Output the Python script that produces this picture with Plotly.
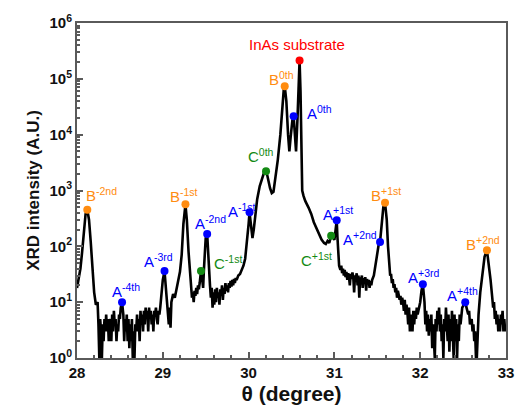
import math
import plotly.graph_objects as go

# ---------------- data ----------------
theta = [
    28.00, 28.02, 28.04, 28.06, 28.08, 28.10, 28.12, 28.14, 28.16, 28.18, 28.20, 28.22, 28.24,
    28.25, 28.26, 28.27, 28.28, 28.29, 28.30, 28.31, 28.32, 28.33, 28.34, 28.35, 28.36, 28.37,
    28.38, 28.39, 28.40, 28.41, 28.42, 28.43, 28.44, 28.45, 28.46, 28.47, 28.48, 28.49, 28.50,
    28.51, 28.525, 28.54, 28.55, 28.56, 28.57, 28.58, 28.59, 28.60, 28.61, 28.62, 28.63, 28.64,
    28.65, 28.66, 28.67, 28.68, 28.69, 28.70, 28.71, 28.72, 28.73, 28.74, 28.75, 28.76, 28.77,
    28.78, 28.79, 28.80, 28.81, 28.82, 28.83, 28.84, 28.85, 28.86, 28.87, 28.88, 28.89, 28.90,
    28.91, 28.92, 28.93, 28.94, 28.95, 28.96, 28.97, 28.98, 29.00, 29.02, 29.04, 29.06, 29.07,
    29.08, 29.09, 29.10, 29.12, 29.14, 29.16, 29.18, 29.20, 29.22, 29.24, 29.264, 29.28, 29.30,
    29.32, 29.33, 29.34, 29.35, 29.36, 29.37, 29.38, 29.39, 29.40, 29.41, 29.42, 29.43, 29.445,
    29.46, 29.47, 29.48, 29.50, 29.517, 29.53, 29.55, 29.56, 29.57, 29.58, 29.59, 29.60, 29.61,
    29.62, 29.63, 29.64, 29.65, 29.66, 29.67, 29.68, 29.69, 29.70, 29.71, 29.72, 29.73, 29.74,
    29.75, 29.76, 29.77, 29.78, 29.79, 29.80, 29.81, 29.82, 29.83, 29.84, 29.85, 29.86, 29.88,
    29.90, 29.92, 29.94, 29.96, 29.98, 30.00, 30.011, 30.03, 30.045, 30.06, 30.08, 30.10, 30.13,
    30.16, 30.18, 30.203, 30.22, 30.25, 30.27, 30.29, 30.31, 30.34, 30.37, 30.39, 30.41, 30.421,
    30.44, 30.46, 30.475, 30.49, 30.51, 30.525, 30.54, 30.553, 30.57, 30.585, 30.594, 30.605,
    30.615, 30.625, 30.64, 30.66, 30.70, 30.73, 30.76, 30.79, 30.82, 30.85, 30.88, 30.90, 30.92,
    30.94, 30.962, 30.98, 31.00, 31.015, 31.027, 31.035, 31.045, 31.055, 31.07, 31.08, 31.09,
    31.10, 31.11, 31.12, 31.13, 31.14, 31.15, 31.16, 31.17, 31.18, 31.19, 31.20, 31.21, 31.22,
    31.23, 31.24, 31.25, 31.26, 31.27, 31.28, 31.29, 31.30, 31.31, 31.32, 31.33, 31.34, 31.35,
    31.36, 31.37, 31.38, 31.39, 31.40, 31.41, 31.42, 31.43, 31.44, 31.46, 31.48, 31.50, 31.515,
    31.532, 31.55, 31.57, 31.59, 31.61, 31.625, 31.64, 31.65, 31.66, 31.67, 31.68, 31.69, 31.70,
    31.71, 31.72, 31.73, 31.74, 31.75, 31.76, 31.77, 31.78, 31.79, 31.80, 31.81, 31.82, 31.83,
    31.84, 31.85, 31.86, 31.87, 31.88, 31.89, 31.90, 31.91, 31.92, 31.93, 31.94, 31.95, 31.96,
    31.97, 31.98, 32.00, 32.015, 32.031, 32.05, 32.06, 32.07, 32.08, 32.09, 32.10, 32.11, 32.12,
    32.13, 32.14, 32.15, 32.16, 32.17, 32.18, 32.19, 32.20, 32.21, 32.22, 32.23, 32.24, 32.25,
    32.26, 32.27, 32.28, 32.29, 32.30, 32.31, 32.32, 32.33, 32.34, 32.35, 32.36, 32.37, 32.38,
    32.39, 32.40, 32.41, 32.42, 32.43, 32.44, 32.45, 32.46, 32.47, 32.49, 32.51, 32.525, 32.54,
    32.56, 32.57, 32.58, 32.60, 32.61, 32.62, 32.63, 32.64, 32.65, 32.66, 32.67, 32.68, 32.70,
    32.72, 32.75, 32.778, 32.80, 32.82, 32.84, 32.85, 32.86, 32.87, 32.88, 32.89, 32.90, 32.91,
    32.92, 32.93, 32.94, 32.95, 32.96, 32.97, 32.98, 32.99, 33.00,
]

intensity = [
    18, 25, 40, 80, 200, 380, 450, 300, 120, 40, 15, 9, 10,
    4, 1, 5, 3, 1, 4, 2, 5, 3, 6, 3, 5, 2,
    4, 5, 2, 6, 3, 7, 4, 5, 2, 4, 3, 6, 5,
    8, 10, 6, 2, 5, 3, 6, 2, 5, 1.5, 4, 2, 5,
    1, 3, 1, 4, 3, 6, 3, 5, 2, 7, 4, 6, 3,
    7, 4, 8, 5, 7, 3, 8, 5, 7, 4, 6, 3, 7,
    6, 8, 5, 4, 7, 6, 8, 12, 25, 36, 15, 6, 4,
    8, 3.5, 10, 14, 12, 18, 25, 35, 70, 250, 567, 300, 80,
    35, 20, 12, 15, 10, 16, 13, 18, 14, 20, 17, 22, 36,
    25, 18, 40, 140, 167, 60, 20, 12, 18, 8, 15, 9, 17,
    10, 18, 12, 15, 9, 17, 13, 20, 11, 18, 14, 22, 16,
    20, 15, 22, 18, 24, 19, 25, 20, 26, 22, 27, 25, 30,
    32, 38, 45, 60, 110, 250, 406, 200, 140, 200, 400, 700, 1200,
    1800, 2100, 2213, 1800, 1100, 900, 950, 1500, 3500, 10000, 30000, 65000, 73800,
    40000, 10000, 5000, 9000, 18000, 21270, 9000, 5000, 20000, 120000, 212700, 60000,
    5000, 1000, 800, 650, 490, 380, 270, 210, 170, 132, 115, 110, 125,
    115, 155, 150, 130, 250, 292, 150, 60, 45, 38, 45, 33,
    40, 30, 38, 28, 35, 25, 33, 28, 20, 32, 26, 34, 28,
    15, 30, 27, 33, 20, 30, 12, 28, 24, 30, 18, 27, 22,
    28, 16, 26, 22, 25, 18, 24, 20, 25, 30, 50, 80, 105,
    120, 250, 500, 604, 300, 100, 35, 30, 32, 22, 26, 18, 21,
    15, 18, 12, 16, 14, 11, 13, 9, 12, 10, 7, 11, 6,
    9, 7, 4, 8, 3, 6, 5, 3, 7, 4, 7, 5, 8,
    6, 7, 10, 16, 21, 10, 4, 7, 3, 6, 2.5, 5, 3,
    6, 1.5, 4, 2, 1, 5, 3, 7, 4, 8, 3, 6, 2,
    4, 1, 5, 3, 8, 4, 2, 6, 1.3, 5, 2, 7, 3,
    1, 6, 2, 5, 1, 4, 2, 6, 4, 8, 9, 10, 8,
    6, 7, 4, 5, 3, 4, 2, 3, 1, 1, 4, 6, 15,
    30, 65, 85, 50, 25, 12, 8, 10, 5, 7, 4, 6, 3,
    5, 3, 6, 4, 7, 3, 5, 3, 4,
]

peak_labels = [
    "B<sup>-2nd</sup>", "A<sup>-4th</sup>", "A<sup>-3rd</sup>", "B<sup>-1st</sup>",
    "A<sup>-2nd</sup>", "C<sup>-1st</sup>", "A<sup>-1st</sup>", "C<sup>0th</sup>",
    "B<sup>0th</sup>", "A<sup>0th</sup>", "InAs substrate", "C<sup>+1st</sup>",
    "A<sup>+1st</sup>", "A<sup>+2nd</sup>", "B<sup>+1st</sup>", "A<sup>+3rd</sup>",
    "A<sup>+4th</sup>", "B<sup>+2nd</sup>",
]
peak_theta = [28.12, 28.525, 29.02, 29.264, 29.517, 29.445, 30.011, 30.203, 30.421,
              30.525, 30.594, 30.962, 31.027, 31.532, 31.59, 32.031, 32.525, 32.778]
peak_intensity = [450, 10, 36, 567, 167, 36, 406, 2213, 73800,
                  21270, 212700, 155, 292, 120, 604, 21, 10, 85]
peak_group = ["B", "A", "A", "B", "A", "C", "A", "C", "B",
              "A", "S", "C", "A", "A", "B", "A", "A", "B"]

x_ticks = [28, 29, 30, 31, 32, 33]
y_ticks = [1, 10, 100, 1000, 10000, 100000, 1000000]
y_tick_labels = ["10<sup>0</sup>", "10<sup>1</sup>", "10<sup>2</sup>", "10<sup>3</sup>",
                 "10<sup>4</sup>", "10<sup>5</sup>", "10<sup>6</sup>"]

# ---------------- styles ----------------
group_colors = {"A": "#0000ff", "B": "#ff8c10", "C": "#138a13", "S": "#ff0000"}
# label text offset (pixels) relative to the marker: (xshift, yshift, xanchor)
label_shift = [(-3, 15, "left"), (-12, 12, "left"), (-23, 11, "left"), (-17, 9, "left"),
               (-14, 11, "left"), (11, 9, "left"), (-24, 2, "left"), (-20, 16, "left"),
               (-18, 8, "left"), (11, 4, "left"), (-3, 16, "center"), (-32, -24, "left"),
               (-16, 7, "left"), (-39, 3, "left"), (-16, 8, "left"), (-17, 8, "left"),
               (-20, 8, "left"), (-23, 7, "left")]

FONT = "Arial, Liberation Sans, sans-serif"
AXIS_COLOR = "#5a5a5a"

fig = go.Figure()
fig.add_trace(go.Scatter(x=theta, y=intensity, mode="lines",
                         line=dict(color="black", width=2.6), showlegend=False,
                         hoverinfo="skip"))
fig.add_trace(go.Scatter(x=peak_theta, y=peak_intensity, mode="markers",
                         marker=dict(size=8, color=[group_colors[g] for g in peak_group]),
                         showlegend=False))

for lab, px, py, g, (dx, dy, xa) in zip(peak_labels, peak_theta, peak_intensity,
                                        peak_group, label_shift):
    fig.add_annotation(x=px, y=math.log10(py), xref="x", yref="y", text=lab,
                       showarrow=False, xanchor=xa, yanchor="middle",
                       xshift=dx, yshift=dy,
                       font=dict(family=FONT, size=15, color=group_colors[g]))

minor_y = [m * 10 ** k for k in range(0, 6) for m in range(2, 10)]

fig.update_xaxes(range=[28, 33], tickvals=x_ticks,
                 ticktext=[f"<b>{v}</b>" for v in x_ticks],
                 ticks="inside", ticklen=6, tickwidth=1.5, tickcolor=AXIS_COLOR,
                 minor=dict(dtick=0.2, ticks="inside", ticklen=3, tickcolor=AXIS_COLOR,
                            showgrid=False),
                 showline=True, linecolor=AXIS_COLOR, linewidth=2, mirror=True,
                 showgrid=False, zeroline=False,
                 tickfont=dict(family=FONT, size=15, color="#111"),
                 title=dict(text="<b>θ (degree)</b>", standoff=6,
                            font=dict(family=FONT, size=21, color="#111")))
fig.update_yaxes(type="log", range=[0, 6], tickvals=y_ticks,
                 ticktext=[f"<b>{t}</b>" for t in y_tick_labels],
                 ticks="inside", ticklen=6, tickwidth=1.5, tickcolor=AXIS_COLOR,
                 minor=dict(tickvals=minor_y, ticks="inside", ticklen=3,
                            tickcolor=AXIS_COLOR, showgrid=False),
                 showline=True, linecolor=AXIS_COLOR, linewidth=2, mirror=True,
                 showgrid=False, zeroline=False,
                 tickfont=dict(family=FONT, size=15, color="#111"),
                 title=dict(text="<b>XRD intensity (A.U.)</b>", standoff=6,
                            font=dict(family=FONT, size=17, color="#111")))

fig.update_layout(width=526, height=414, margin=dict(l=77, r=14, t=15, b=51),
                  paper_bgcolor="white", plot_bgcolor="white",
                  font=dict(family=FONT))

fig.write_html("out.html")
